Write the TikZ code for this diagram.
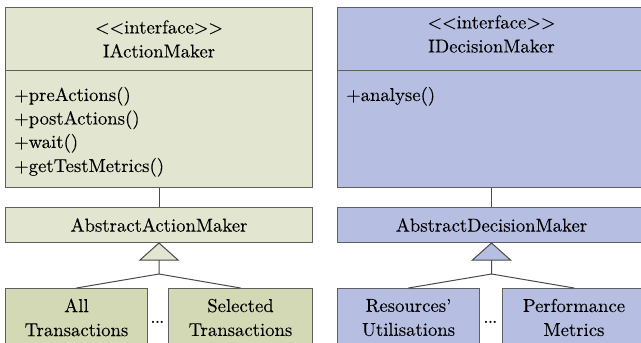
\documentclass[tikz,border=0pt]{standalone}
\usepackage{fontspec}
\newfontfamily\lmx{lmroman10-regular.otf}[FakeBold=0.1]
\newfontfamily\lmb{lmroman10-bold.otf}
\usetikzlibrary{calc}
\definecolor{gfill}{HTML}{E2E5D0}
\definecolor{gchild}{HTML}{D4D9B5}
\definecolor{bfill}{HTML}{B6BFE1}
\definecolor{bord}{HTML}{5F5F5F}
\definecolor{conn}{HTML}{4A4A4A}
\begin{document}
\begin{tikzpicture}[x=1pt,y=-1pt,
  box/.style={draw=bord, line width=1pt, inner sep=0pt, anchor=north west, align=center, font=\lmx\fontsize{18.7}{24}\selectfont},
  txt/.style={inner sep=0pt, font=\lmx\fontsize{18.7}{24}\selectfont},
  conline/.style={draw=conn, line width=1pt},
  dotsym/.style={inner sep=0pt, anchor=base, font=\lmb\fontsize{14}{14}\selectfont}]
\useasboundingbox (0,0) rectangle (641,343);
\clip (0,0) rectangle (641,343);
\fill[white] (0,0) rectangle (641,343);
% ---------- left column ----------
\node[box, fill=gfill, minimum width=307, minimum height=63] (iahead) at (5,7) {};
\node[txt, align=center] (iatitle) at (iahead.center) {<\kern0pt<interface>\kern0pt>\\IActionMaker};
\node[box, fill=gfill, minimum width=307, minimum height=117] (iabody) at (5,70) {};
\node[txt, anchor=base west] (m1) at (14,101) {+preActions()};
\node[txt, anchor=base west] (m2) at (14,124.5) {+postActions()};
\node[txt, anchor=base west] (m3) at (14,148) {+wait()};
\node[txt, anchor=base west] (m4) at (14,172) {+getTestMetrics()};
\node[box, fill=gfill, minimum width=307, minimum height=35] (aam) at (5,207) {AbstractActionMaker};
\node[box, fill=gchild, minimum width=142, minimum height=58] (allt) at (5,288) {All\\Transactions};
\node[box, fill=gchild, minimum width=144, minimum height=58] (selt) at (168,288) {Selected\\Transactions};
\node[dotsym] (ldots) at (157.5,323) {...};
\draw[conline] (iabody.south) -- (aam.north);
\coordinate (la1) at ($(aam.south)+(-19,17)$);
\coordinate (la2) at ($(aam.south)+(19,17)$);
\coordinate (laj) at ($(aam.south)+(0,17)$);
\coordinate (lab) at ($(aam.south)+(0,31)$);
\filldraw[conline, fill=gfill] (aam.south) -- (la1) -- (la2) -- cycle;
\draw[conline] (laj) -- (lab) -- (allt.north);
\draw[conline] (lab) -- (selt.north);
% ---------- right column ----------
\node[box, fill=bfill, minimum width=308, minimum height=63] (idhead) at (337,7) {};
\node[txt, align=center] (idtitle) at ($(idhead.center)+(0,-5)$) {<\kern0pt<interface>\kern0pt>\\IDecisionMaker};
\node[box, fill=bfill, minimum width=308, minimum height=117] (idbody) at (337,70) {};
\node[txt, anchor=base west] (r1) at (346,101) {+analyse()};
\node[box, fill=bfill, minimum width=308, minimum height=35] (adm) at (337,207) {AbstractDecisionMaker};
\node[box, fill=bfill, minimum width=142, minimum height=58] (resu) at (337,288) {Resources’\\Utilisations};
\node[box, fill=bfill, minimum width=143, minimum height=58] (perf) at (502,288) {Performance\\Metrics};
\node[dotsym] (rdots) at (490.5,323) {...};
\draw[conline] (idbody.south) -- (adm.north);
\coordinate (ra1) at ($(adm.south)+(-19,17)$);
\coordinate (ra2) at ($(adm.south)+(19,17)$);
\coordinate (raj) at ($(adm.south)+(0,17)$);
\coordinate (rab) at ($(adm.south)+(0,31)$);
\filldraw[conline, fill=bfill] (adm.south) -- (ra1) -- (ra2) -- cycle;
\draw[conline] (raj) -- (rab) -- (resu.north);
\draw[conline] (rab) -- (perf.north);
\end{tikzpicture}
\end{document}
